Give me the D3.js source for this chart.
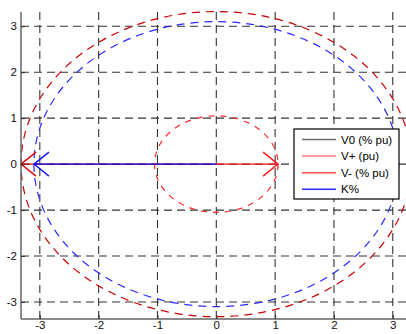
<!DOCTYPE html>
<html>
<head>
<meta charset="utf-8">
<script src="https://cdn.jsdelivr.net/npm/d3@7"></script>
<style>
  body { margin: 0; background: #fff; }
  text { font-family: "Liberation Sans", Arial, sans-serif; }
</style>
</head>
<body>
<div id="chart"></div>
<script>
// phasor data (tips on the real axis)
var seriesNames = ["V0 (% pu)", "V+ (pu)", "V- (% pu)", "K%"];
var phasorX = [0, 1.05, -3.32, -3.1];
var phasorY = [0, 0, 0, 0];
// magnitude traces drawn as dashed circles
var circleNames = ["V+ (pu)", "V- (% pu)", "K%"];
var circleRadius = [1.05, 3.32, 3.1];
var xTicks = [-3, -2, -1, 0, 1, 2, 3];
var yTicks = [-3, -2, -1, 0, 1, 2, 3];

var width = 406,
  height = 334;
var seriesColor = {
  "V0 (% pu)": "#000000",
  "V+ (pu)": "#ff1010",
  "V- (% pu)": "#d80000",
  "K%": "#1010ff"
};
var legendColor = ["#6e6e6e", "#ff7a7a", "#ff4a4a", "#2a2aff"];
var circleColor = { "V+ (pu)": "#ff2a2a", "V- (% pu)": "#c80000", "K%": "#2a2aff" };

var x = d3.scaleLinear().domain([-3.32, 3.32]).range([21, 411.6]);
var y = d3.scaleLinear().domain([-3.37, 3.31]).range([319, 12]);

var svg = d3
  .select("#chart")
  .append("svg")
  .attr("width", width)
  .attr("height", height);

// grid
var grid = svg.append("g").attr("class", "grid");
grid
  .selectAll("line.gx")
  .data(xTicks)
  .enter()
  .append("line")
  .attr("x1", function (d) { return x(d); })
  .attr("x2", function (d) { return x(d); })
  .attr("y1", y.range()[1])
  .attr("y2", y.range()[0])
  .attr("stroke", "#333")
  .attr("stroke-width", 1.1)
  .attr("stroke-dasharray", "8,5");
grid
  .selectAll("line.gy")
  .data(yTicks)
  .enter()
  .append("line")
  .attr("y1", function (d) { return y(d); })
  .attr("y2", function (d) { return y(d); })
  .attr("x1", x.range()[0])
  .attr("x2", width)
  .attr("stroke", "#333")
  .attr("stroke-width", 1.1)
  .attr("stroke-dasharray", "8,5");

// dashed magnitude circles
var kx = x(1) - x(0),
  ky = y(0) - y(1);
svg
  .selectAll("ellipse.trace")
  .data(circleNames)
  .enter()
  .append("ellipse")
  .attr("cx", x(0))
  .attr("cy", y(0))
  .attr("rx", function (d, i) { return circleRadius[i] * kx; })
  .attr("ry", function (d, i) { return circleRadius[i] * ky; })
  .attr("fill", "none")
  .attr("stroke", function (d) { return circleColor[d]; })
  .attr("stroke-width", 1.2)
  .attr("stroke-dasharray", function (d, i) { return i === 0 ? "6,6" : "8,6"; });

// phasor arrows (draw V- first so K% sits on top)
var order = [0, 2, 1, 3];
var arrows = svg.append("g").attr("class", "arrows");
order.forEach(function (i) {
  var x0 = x(0),
    y0 = y(0),
    x1 = x(phasorX[i]),
    y1 = y(phasorY[i]);
  var len = Math.hypot(x1 - x0, y1 - y0);
  if (len < 1) return;
  var ux = (x1 - x0) / len,
    uy = (y1 - y0) / len;
  var back = 15,
    spread = 12;
  var col = seriesColor[seriesNames[i]];
  arrows
    .append("line")
    .attr("x1", x0)
    .attr("y1", y0)
    .attr("x2", x1)
    .attr("y2", y1)
    .attr("stroke", col)
    .attr("stroke-width", 1.3);
  arrows
    .append("path")
    .attr(
      "d",
      "M" + (x1 - ux * back - uy * spread) + "," + (y1 - uy * back + ux * spread) +
        "L" + x1 + "," + y1 +
        "L" + (x1 - ux * back + uy * spread) + "," + (y1 - uy * back - ux * spread)
    )
    .attr("fill", "none")
    .attr("stroke", col)
    .attr("stroke-width", 1.3);
});

// axes (left and bottom only, ticks inward)
var fmt = function (d) { return String(d); };
var xAxis = d3.axisBottom(x).tickValues(xTicks).tickFormat(fmt).tickSize(-4).tickPadding(3);
var yAxis = d3.axisLeft(y).tickValues(yTicks).tickFormat(fmt).tickSize(-4).tickPadding(4);
var gx = svg
  .append("g")
  .attr("transform", "translate(0," + y.range()[0] + ")")
  .call(xAxis);
var gy = svg
  .append("g")
  .attr("transform", "translate(" + x.range()[0] + ",0)")
  .call(yAxis);
[gx, gy].forEach(function (g) {
  g.select(".domain").attr("stroke", "#666").attr("stroke-width", 1.5);
  g.selectAll(".tick line").attr("stroke", "#333");
  g.selectAll(".tick text")
    .attr("font-size", "11.5px")
    .attr("fill", "#111")
    .style("font-family", "'Liberation Sans', Arial, sans-serif");
});
gx.selectAll(".tick text").attr("dy", "0.65em");
gx.select(".domain").attr("d", "M" + x.range()[0] + ",0H" + width);
gy.select(".domain").attr("d", "M0," + y.range()[0] + "V" + y.range()[1]);

// legend
var legend = svg.append("g").attr("transform", "translate(294,129)");
legend
  .append("rect")
  .attr("width", 105)
  .attr("height", 70)
  .attr("fill", "#fff")
  .attr("stroke", "#000")
  .attr("stroke-width", 1.2);
var rows = legend
  .selectAll("g.row")
  .data(seriesNames)
  .enter()
  .append("g")
  .attr("transform", function (d, i) { return "translate(0," + (10.5 + i * 16.6) + ")"; });
rows
  .append("line")
  .attr("x1", 8)
  .attr("x2", 42)
  .attr("stroke", function (d, i) { return legendColor[i]; })
  .attr("stroke-width", 1.5);
rows
  .append("text")
  .attr("x", 47)
  .attr("dy", "0.35em")
  .attr("font-size", "11.5px")
  .attr("fill", "#000")
  .text(function (d) { return d; });
</script>
</body>
</html>
